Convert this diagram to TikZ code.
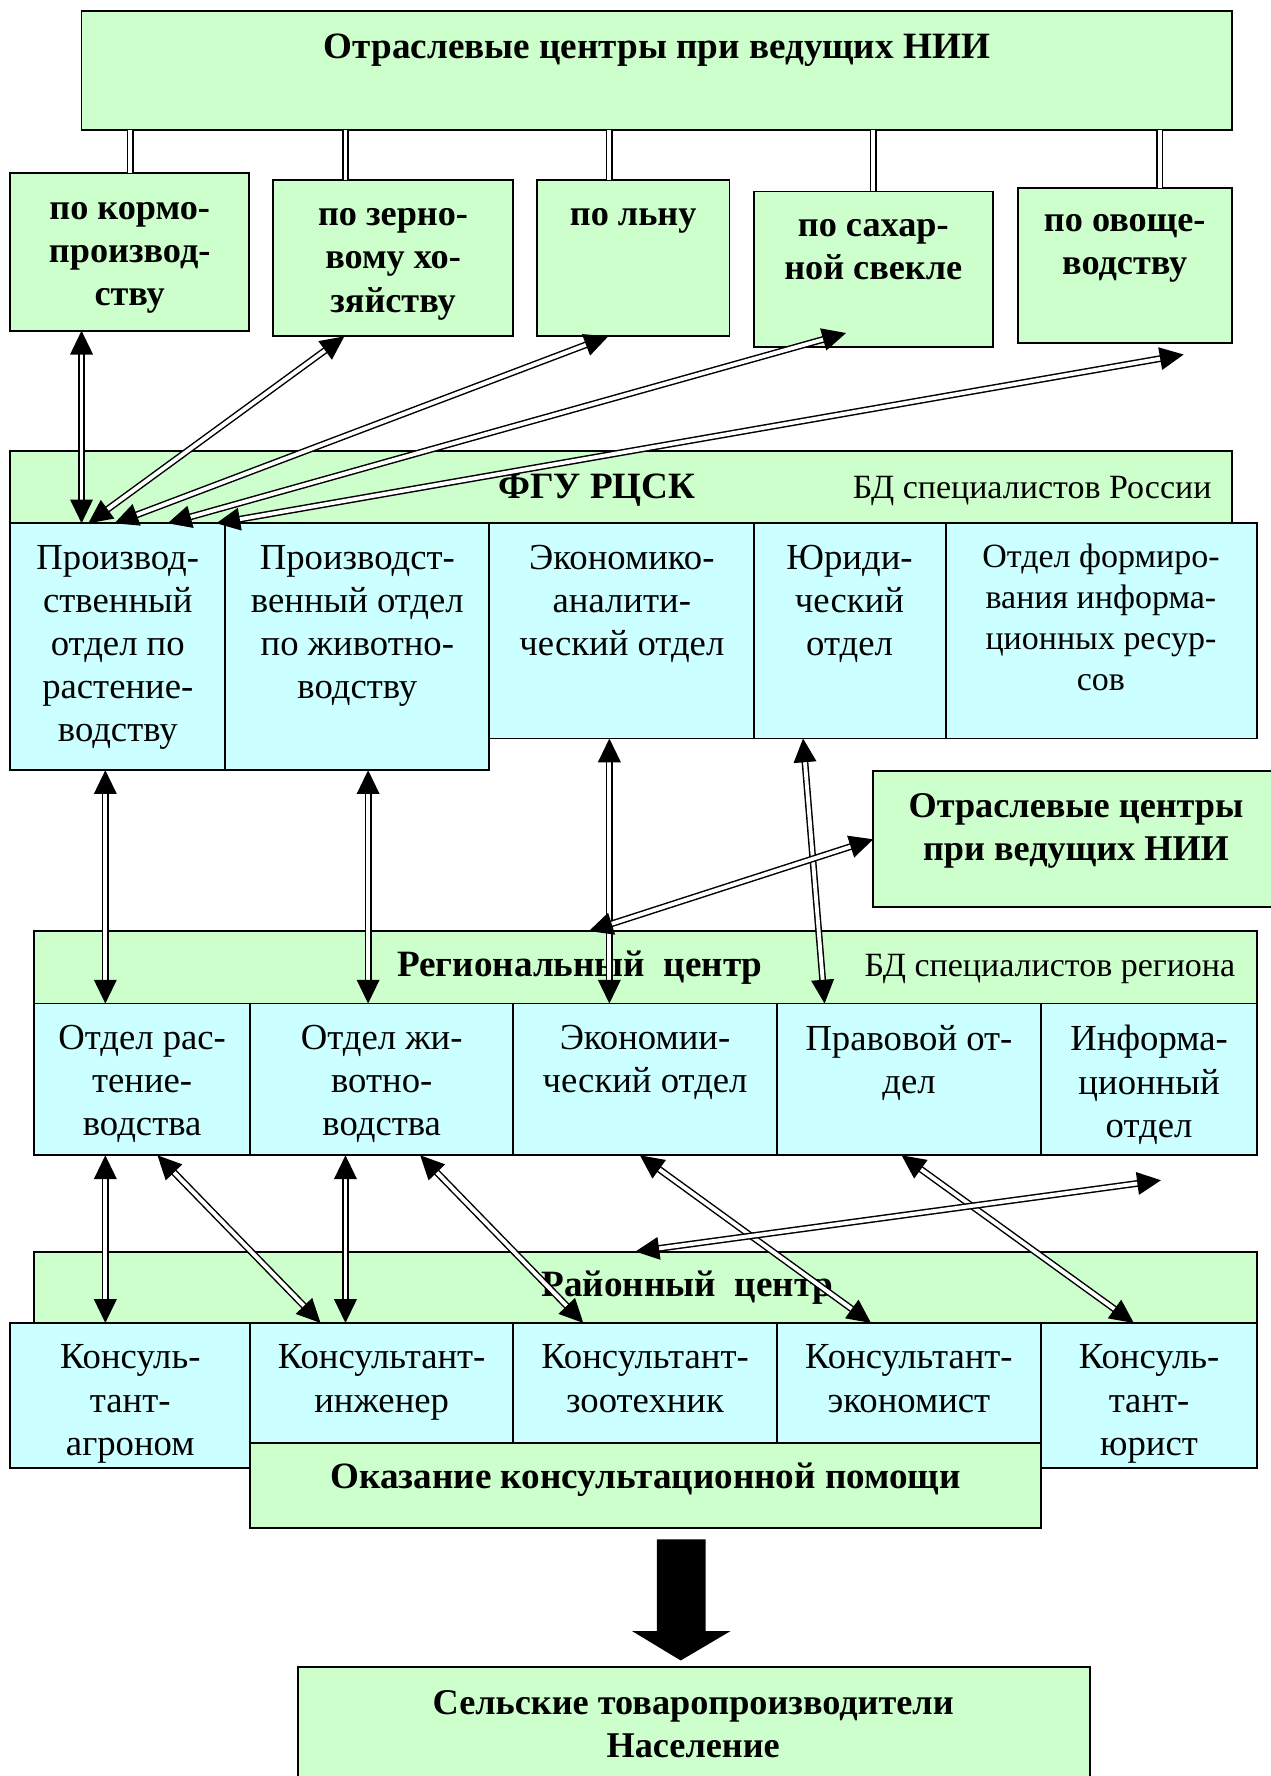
\documentclass[tikz,border=0pt]{standalone}
\usepackage{fontspec}
\setmainfont{Liberation Serif}
\usetikzlibrary{arrows.meta}
\definecolor{gfill}{RGB}{204,255,204}
\definecolor{bfill}{RGB}{204,255,255}
\newcommand\mkbox[6]{\node[#2, anchor=north west, minimum width={(#5-#3)*0.5pt}, minimum height={(#6-#4)*0.5pt}] (#1) at (#3,#4) {};}
\begin{document}
\begin{tikzpicture}[x=0.5pt,y=-0.5pt,
  gbox/.style={draw=black, line width=0.8pt, fill=gfill, inner sep=0pt, outer sep=0pt},
  bbox/.style={draw=black, line width=0.8pt, fill=bfill, inner sep=0pt, outer sep=0pt},
  tb/.style={font=\fontsize{16}{19}\selectfont\bfseries, align=center, inner sep=0pt, anchor=north, execute at begin node=\rule{0pt}{12pt}},
  tr/.style={font=\fontsize{16.2}{19}\selectfont, align=center, inner sep=0pt, anchor=north, execute at begin node=\rule{0pt}{12pt}},
  trs/.style={font=\fontsize{15}{18.1}\selectfont, align=center, inner sep=0pt, anchor=north, execute at begin node=\rule{0pt}{12pt}},
  tbl/.style={font=\fontsize{16.4}{19}\selectfont\bfseries, inner sep=0pt, anchor=base},
  trl/.style={font=\fontsize{15}{18}\selectfont, inner sep=0pt, anchor=base},
  dline/.style={draw=black, line width=0.65pt, double=white, double distance=1.7pt},
  dbl/.style={dline, {Triangle[length=10.5pt,width=10pt]}-{Triangle[length=10.5pt,width=10pt]}},
]
\useasboundingbox (0,0) rectangle (1122,1568);
% ---- top level
\mkbox{top}{gbox}{72}{10}{1088}{115}
\mkbox{k1}{gbox}{9}{153}{220}{292}
\mkbox{k2}{gbox}{241}{159}{453}{297}
\mkbox{k3}{gbox}{474}{159}{644}{297}
\mkbox{k4}{gbox}{666}{169}{877}{306}
\mkbox{k5}{gbox}{899}{166}{1088}{303}
% ---- FGU
\mkbox{fgu}{gbox}{9}{398}{1088}{462}
\mkbox{f1}{bbox}{9}{462}{199}{680}
\mkbox{f2}{bbox}{199}{462}{432}{680}
\mkbox{f3}{bbox}{432}{462}{666}{652}
\mkbox{f4}{bbox}{666}{462}{835}{652}
\mkbox{f5}{bbox}{835}{462}{1110}{652}
\mkbox{n2}{gbox}{771}{681}{1130}{801}
% ---- regional
\mkbox{reg}{gbox}{30}{822}{1110}{886}
\mkbox{r1}{bbox}{30}{886}{221}{1020}
\mkbox{r2}{bbox}{221}{886}{453}{1020}
\mkbox{r3}{bbox}{453}{886}{686}{1020}
\mkbox{r4}{bbox}{686}{886}{919}{1020}
\mkbox{r5}{bbox}{919}{886}{1110}{1020}
% ---- district
\mkbox{dist}{gbox}{30}{1105}{1110}{1168}
\mkbox{d1}{bbox}{9}{1168}{221}{1296}
\mkbox{d2}{bbox}{221}{1168}{453}{1274}
\mkbox{d3}{bbox}{453}{1168}{686}{1274}
\mkbox{d4}{bbox}{686}{1168}{919}{1274}
\mkbox{d5}{bbox}{919}{1168}{1110}{1296}
\mkbox{help}{gbox}{221}{1274}{919}{1349}
\mkbox{bot}{gbox}{263}{1472}{962}{1580}
% ---- texts
\node[tbl] (ttop) at (580,51.5) {Отраслевые центры при ведущих НИИ};
\node[tb] (tk1) at (114.5,178) {по кормо-\\производ-\\ству};
\node[tb] (tk2) at (347,184) {по зерно-\\вому хо-\\зяйству};
\node[tb] (tk3) at (559,175) {по льну};
\node[tb] (tk4) at (771,193.5) {по сахар-\\ной свекле};
\node[tb] (tk5) at (993,189) {по овоще-\\водству};
\node[tbl] (tfgu) at (527,440) {ФГУ РЦСК};
\node[trl, anchor=base east] (tfgudb) at (1070,440) {БД специалистов России};
\node[tr] (tf1) at (104,481) {Производ-\\ственный\\отдел по\\растение-\\водству};
\node[tr] (tf2) at (315.5,481) {Производст-\\венный отдел\\по животно-\\водству};
\node[tr] (tf3) at (549,481) {Экономико-\\аналити-\\ческий отдел};
\node[tr] (tf4) at (750,481) {Юриди-\\ческий\\отдел};
\node[trs] (tf5) at (972,480) {Отдел формиро-\\вания информа-\\ционных ресур-\\сов};
\node[tb] (tn2) at (950,700) {Отраслевые центры\\при ведущих НИИ};
\node[tbl] (treg) at (512,862) {Региональный\ \ центр};
\node[trl, anchor=base east] (tregdb) at (1091,862) {БД специалистов региона};
\node[tr] (tr1) at (125.5,905) {Отдел рас-\\тение-\\водства};
\node[tr] (tr2) at (337,905) {Отдел жи-\\вотно-\\водства};
\node[tr] (tr3) at (569.5,905) {Экономии-\\ческий отдел};
\node[tr] (tr4) at (802.5,905) {Правовой от-\\дел};
\node[tr] (tr5) at (1014.5,905) {Информа-\\ционный\\отдел};
\node[tbl] (tdist) at (607,1145) {Районный\ \ центр};
\node[tr] (td1) at (115,1187) {Консуль-\\тант-\\агроном};
\node[tr] (td2) at (337,1187) {Консультант-\\инженер};
\node[tr] (td3) at (569.5,1187) {Консультант-\\зоотехник};
\node[tr] (td4) at (802.5,1187) {Консультант-\\экономист};
\node[tr] (td5) at (1014.5,1187) {Консуль-\\тант-\\юрист};
\node[tbl] (thelp) at (570,1314) {Оказание консультационной помощи};
\node[tb] (tbot) at (612,1492) {Сельские товаропроизводители\\Население};
% ---- connectors top
\draw[dline] (top.south -| 115,0) -- (k1.north -| 115,0);
\draw[dline] (top.south -| 305,0) -- (k2.north -| 305,0);
\draw[dline] (top.south -| 538,0) -- (k3.north -| 538,0);
\draw[dline] (top.south -| 771,0) -- (k4.north -| 771,0);
\draw[dline] (top.south -| 1024,0) -- (k5.north -| 1024,0);
% ---- arrows to FGU
\draw[dbl] (k1.south -| 72,0) -- (f1.north -| 72,0);
\draw[dbl] (k2.south -| 304,0) -- (f1.north -| 78,0);
\draw[dbl] (k3.south -| 537,0) -- (f1.north -| 101,0);
\draw[dbl] ([yshift=6pt]k4.south -| 747,0) -- (f1.north -| 148,0);
\draw[dbl] ([yshift=-5pt]k5.south -| 1045,0) -- (f1.north -| 191,0);
% ---- FGU to regional
\draw[dbl] (f1.south -| 93,0) -- (r1.north -| 93,0);
\draw[dbl] (f2.south -| 325,0) -- (r2.north -| 325,0);
\draw[dbl] (f3.south -| 538,0) -- (r3.north -| 538,0);
\draw[dbl] (f4.south -| 709,0) -- (r4.north -| 728,0);
\draw[dbl] (n2.west) -- (reg.north -| 520,0);
% ---- regional to district
\draw[dbl] (r1.south -| 93,0) -- (d1.north -| 93,0);
\draw[dbl] (r1.south -| 139,0) -- (d2.north -| 283,0);
\draw[dbl] (r2.south -| 305,0) -- (d2.north -| 305,0);
\draw[dbl] (r2.south -| 371,0) -- (d3.north -| 515,0);
\draw[dbl] (r3.south -| 565,0) -- (d4.north -| 769,0);
\draw[dbl] (r4.south -| 796,0) -- (d5.north -| 1001,0);
\coordinate (c7e) at (1025,1042);
\draw[dbl] (c7e) -- (dist.north -| 561,0);
% ---- big arrow
\fill[black] (580,1359) -- (623,1359) -- (623,1440) -- (645,1440) -- (601,1466) -- (558,1440) -- (580,1440) -- cycle;
\end{tikzpicture}
\end{document}
